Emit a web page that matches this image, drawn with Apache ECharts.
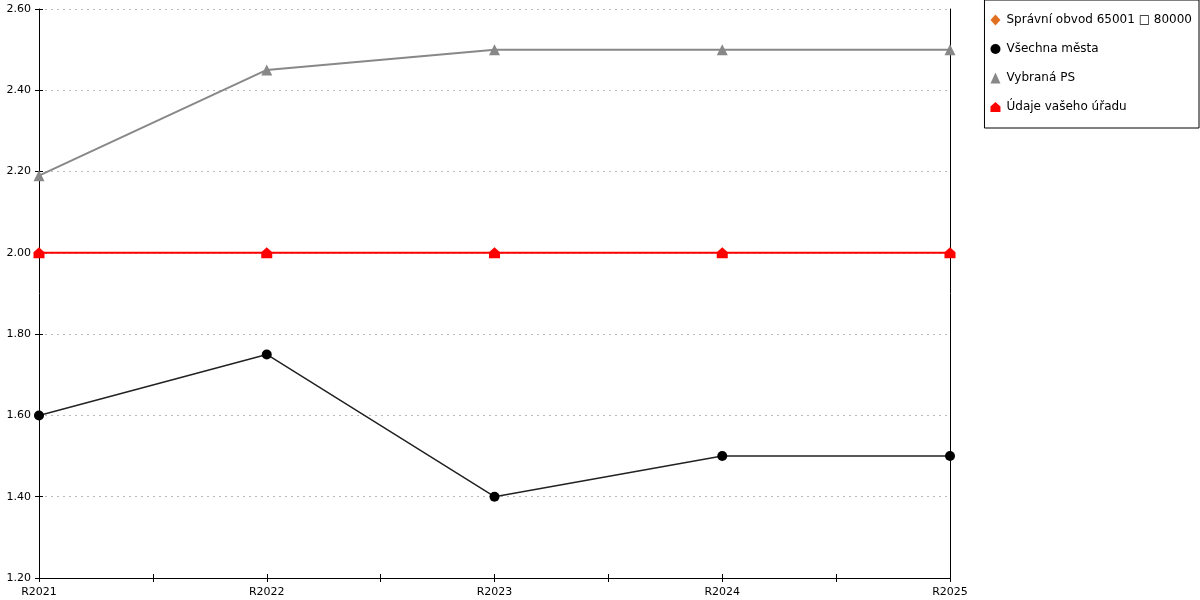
<!DOCTYPE html>
<html><head><meta charset="utf-8">
<script src="https://cdn.jsdelivr.net/npm/echarts@6/dist/echarts.min.js"></script>
<style>html,body{margin:0;padding:0;background:#fff}#c{width:1200px;height:600px}</style>
</head><body><div id="c"></div>
<script>
var categories = ['R2021','R2022','R2023','R2024','R2025'];
var seriesNames = ['Správní obvod 65001 □ 80000','Všechna města','Vybraná PS','Údaje vašeho úřadu'];
var spravniObvod = [null,null,null,null,null];
var vsechnaMesta = [1.60,1.75,1.40,1.50,1.50];
var vybranaPS = [2.19,2.45,2.50,2.50,2.50];
var udajeUradu = [2.00,2.00,2.00,2.00,2.00];
var yTicks = {min:1.2, max:2.6, interval:0.2};

var house = 'path://M5,0 L10,4.5 L10,10 L0,10 L0,4.5 Z';
function pts(arr){return arr.map(function(v,i){return [i,v];});}
var font = 'DejaVu Sans';
var chart = echarts.init(document.getElementById('c'));
chart.setOption({
  animation:false,
  textStyle:{fontFamily:font},
  grid:{left:39,right:250,top:9,bottom:22,containLabel:false},
  legend:{
    orient:'vertical', right:1, top:0,
    borderColor:'#000', borderWidth:1, padding:[14,7,15,6],
    itemGap:17, itemWidth:10, itemHeight:11,
    textStyle:{fontFamily:font,fontSize:12,color:'#000',padding:[0,0,0,1]},
    data:[
      {name:seriesNames[0],icon:'diamond',itemStyle:{color:'#e07020'}},
      {name:seriesNames[1],icon:'circle',itemStyle:{color:'#000'}},
      {name:seriesNames[2],icon:'triangle',itemStyle:{color:'#888'}},
      {name:seriesNames[3],icon:house,itemStyle:{color:'#ff0000'}}
    ]
  },
  xAxis:[
    {type:'value',min:0,max:categories.length-1,interval:0.5,
     axisLine:{show:true,lineStyle:{color:'#000',width:1}},
     axisTick:{show:false},
     axisLabel:{color:'#000',fontSize:11,fontFamily:font,margin:9,showMinLabel:true,showMaxLabel:true,
       formatter:function(v){return Number.isInteger(v)?categories[v]:'';}},
     splitLine:{show:false}},
    {type:'value',min:0,max:categories.length-1,interval:0.5,position:'bottom',offset:-4,
     axisLine:{show:false},
     axisTick:{show:true,length:8,lineStyle:{color:'#000'}},
     axisLabel:{show:false},splitLine:{show:false}}
  ],
  yAxis:[
    {type:'value',min:yTicks.min,max:yTicks.max,interval:yTicks.interval,
     axisLine:{show:true,lineStyle:{color:'#000'}},
     axisTick:{show:false},
     axisLabel:{color:'#000',fontSize:11,fontFamily:font,margin:8,formatter:function(v){return v.toFixed(2);}},
     splitLine:{show:true,lineStyle:{color:'#bbb',type:[2,4],width:1}}},
    {type:'value',min:yTicks.min,max:yTicks.max,interval:yTicks.interval,position:'left',offset:-4,
     axisLine:{show:false},
     axisTick:{show:true,length:8,lineStyle:{color:'#000'}},
     axisLabel:{show:false},splitLine:{show:false}},
    {type:'value',min:yTicks.min,max:yTicks.max,interval:yTicks.interval,position:'right',
     axisLine:{show:true,lineStyle:{color:'#000'}},
     axisTick:{show:false},axisLabel:{show:false},splitLine:{show:false}}
  ],
  series:[
    {name:seriesNames[0],type:'line',data:pts(spravniObvod),symbol:'diamond',symbolSize:10,
     itemStyle:{color:'#e07020'},lineStyle:{color:'#e07020',width:2}},
    {name:seriesNames[1],type:'line',data:pts(vsechnaMesta),symbol:'circle',symbolSize:10,
     itemStyle:{color:'#000'},lineStyle:{color:'#222',width:1.5}},
    {name:seriesNames[2],type:'line',data:pts(vybranaPS),symbol:'triangle',symbolSize:11,
     itemStyle:{color:'#888'},lineStyle:{color:'#888',width:2}},
    {name:seriesNames[3],type:'line',data:pts(udajeUradu),symbol:house,symbolSize:11,
     itemStyle:{color:'#ff0000'},lineStyle:{color:'#ff0000',width:2}}
  ]
});
</script></body></html>
